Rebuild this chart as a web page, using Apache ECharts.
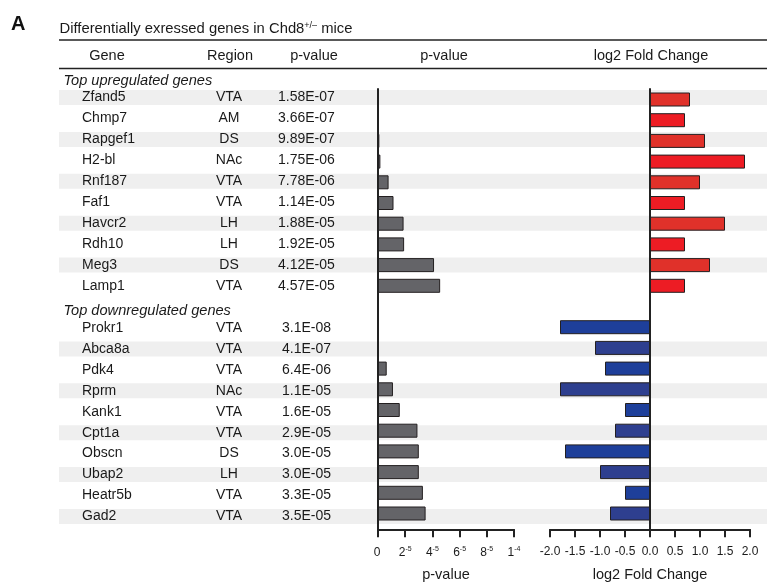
<!DOCTYPE html>
<html>
<head>
<meta charset="utf-8">
<script src="https://cdn.jsdelivr.net/npm/echarts@6/dist/echarts.min.js"></script>
<style>html,body{margin:0;padding:0;background:#fff;}#chart{width:767px;height:582px;}</style>
</head>
<body>
<div id="chart"></div>
<script>
// ---- data ----
const upGenes = ['Zfand5','Chmp7','Rapgef1','H2-bl','Rnf187','Faf1','Havcr2','Rdh10','Meg3','Lamp1'];
const upRegions = ['VTA','AM','DS','NAc','VTA','VTA','LH','LH','DS','VTA'];
const upPValues = ['1.58E-07','3.66E-07','9.89E-07','1.75E-06','7.78E-06','1.14E-05','1.88E-05','1.92E-05','4.12E-05','4.57E-05'];
const upLog2FC = [0.8, 0.7, 1.1, 1.9, 1.0, 0.7, 1.5, 0.7, 1.2, 0.7];

const downGenes = ['Prokr1','Abca8a','Pdk4','Rprm','Kank1','Cpt1a','Obscn','Ubap2','Heatr5b','Gad2'];
const downRegions = ['VTA','VTA','VTA','NAc','VTA','VTA','DS','LH','VTA','VTA'];
const downPValues = ['3.1E-08','4.1E-07','6.4E-06','1.1E-05','1.6E-05','2.9E-05','3.0E-05','3.0E-05','3.3E-05','3.5E-05'];
const downLog2FC = [-1.8, -1.1, -0.9, -1.8, -0.5, -0.7, -1.7, -1.0, -0.5, -0.8];

const sectionTitles = ['Top upregulated genes', 'Top downregulated genes'];
const pTickBase = ['0','2','4','6','8','1'];
const pTickExp  = ['', '-5','-5','-5','-5','-4'];
const headerTitle = 'Differentially exressed genes in Chd8';
const headerSup = '+/\u2013';
const columnHeaders = ['Gene','Region','p-value','p-value','log2 Fold Change'];

// ---- build ----
const FONT = '"Liberation Sans", Arial, Helvetica, sans-serif';
const TXT = '#1a1a1a';
const N = upGenes.length;

const tableRows = [];
tableRows.push({type:'section', text: sectionTitles[0]});
for (let i=0;i<N;i++) tableRows.push({type:'gene', dir:'up', gene: upGenes[i], region: upRegions[i], p: upPValues[i], shade: i%2===0});
tableRows.push({type:'section', text: sectionTitles[1]});
for (let i=0;i<N;i++) tableRows.push({type:'gene', dir:'down', gene: downGenes[i], region: downRegions[i], p: downPValues[i], shade: i%2===1});
const tableCats = tableRows.map((r,i)=>String(i));

const barCats = [];
const pBarData = [];
const fcBarData = [];
const grayBar = '#646468';
for (let i=0;i<N;i++) {
  barCats.push('u'+i);
  pBarData.push({value: parseFloat(upPValues[i]), itemStyle:{color: grayBar}});
  fcBarData.push({value: upLog2FC[i], itemStyle:{color: i%2===0 ? '#e0312a' : '#ed1c24'}});
}
barCats.push('gap'); pBarData.push('-'); fcBarData.push('-');
for (let i=0;i<N;i++) {
  barCats.push('d'+i);
  pBarData.push({value: parseFloat(downPValues[i]), itemStyle:{color: grayBar}});
  fcBarData.push({value: downLog2FC[i], itemStyle:{color: i%2===1 ? '#2e3f8f' : '#1e3f9a'}});
}

const stripeData = tableRows.map(r => (r.type==='gene' && r.shade) ? 1 : '-');

function textAxis(formatter, margin, labelExtra) {
  return {
    type:'category', gridIndex:0, data: tableCats, inverse:true, position:'left', offset:0, z:10,
    axisLine:{show:false}, axisTick:{show:false}, splitLine:{show:false},
    axisLabel:Object.assign({show:true, inside:true, interval:0, margin, formatter,
      color:TXT, fontSize:14, fontFamily:FONT, hideOverlap:false}, labelExtra||{})
  };
}

const TBL_TOP = 66.05, ROW_H = 20.95;
const BAR_TOP = 89.15, BAR_ROW = 20.7;
const gridBase = {outerBoundsMode:'none', containLabel:false};

const option = {
  animation:false,
  backgroundColor:'#fff',
  grid:[
    Object.assign({left:59, top:TBL_TOP, width:708, height:ROW_H*tableRows.length}, gridBase),
    Object.assign({left:378, top:BAR_TOP, width:136, height:BAR_ROW*barCats.length}, gridBase),
    Object.assign({left:550, top:BAR_TOP, width:200, height:BAR_ROW*barCats.length}, gridBase),
    Object.assign({left:378, top:89, width:136, height:440.3}, gridBase),
    Object.assign({left:550, top:89, width:200, height:440.3}, gridBase)
  ],
  xAxis:[
    {type:'value', gridIndex:0, min:0, max:1, show:false},
    {type:'value', gridIndex:1, min:0, max:1e-4, show:false},
    {type:'value', gridIndex:2, min:-2, max:2, show:false},
    {type:'value', gridIndex:3, min:0, max:1e-4, interval:2e-5, position:'bottom', z:10,
      axisLine:{show:true, onZero:false, lineStyle:{color:'#222', width:2}},
      axisTick:{show:true, length:8, lineStyle:{color:'#222', width:2}},
      splitLine:{show:false},
      axisLabel:{margin:16, color:TXT, fontFamily:FONT,
        formatter:(v, idx)=> '{b|'+pTickBase[idx]+'}{s|'+(pTickExp[idx] || ' ')+'}',
        rich:{ b:{fontSize:12, lineHeight:14, fontFamily:FONT, color:TXT},
               s:{fontSize:7, lineHeight:14, fontFamily:FONT, color:TXT, padding:[0,0,6,0]} } },
      name:'p-value', nameLocation:'middle', nameGap:38,
      nameTextStyle:{fontSize:14.5, fontFamily:FONT, color:TXT}
    },
    {type:'value', gridIndex:4, min:-2, max:2, interval:0.5, position:'bottom', z:10,
      axisLine:{show:true, onZero:false, lineStyle:{color:'#222', width:2}},
      axisTick:{show:true, length:8, lineStyle:{color:'#222', width:2}},
      splitLine:{show:false},
      axisLabel:{margin:16, fontSize:12, color:TXT, fontFamily:FONT,
        formatter:(v)=> v.toFixed(1)},
      name:'log2 Fold Change', nameLocation:'middle', nameGap:38,
      nameTextStyle:{fontSize:14.5, fontFamily:FONT, color:TXT}
    }
  ],
  yAxis:[
    textAxis((v)=>{const r=tableRows[+v]; return r.type==='gene'? r.gene : '';}, 23),
    textAxis((v)=>{const r=tableRows[+v]; return r.type==='gene'? r.region : '';}, 170, {align:'center'}),
    textAxis((v)=>{const r=tableRows[+v]; return r.type!=='gene' ? '' : (r.dir==='down' ? '{d|'+r.p+'}' : r.p);}, 219,
      {rich:{d:{fontSize:14, fontFamily:FONT, color:TXT, padding:[0,0,0,4]}}}),
    textAxis((v)=>{const r=tableRows[+v]; return r.type==='section'? '{h|'+r.text+'}' : '';}, 4.5,
      {rich:{h:{fontStyle:'italic', fontSize:14.6, fontFamily:FONT, color:TXT, padding:[8,0,0,0]}}}),
    {type:'category', gridIndex:1, data:barCats, inverse:true, show:false},
    {type:'category', gridIndex:2, data:barCats, inverse:true, show:false},
    {type:'value', gridIndex:3, min:0, max:1, position:'left', z:10,
      axisLine:{show:true, lineStyle:{color:'#222', width:2}}, axisTick:{show:false}, axisLabel:{show:false}, splitLine:{show:false}},
    {type:'value', gridIndex:4, min:0, max:1, position:'left', z:10,
      axisLine:{show:true, onZero:true, lineStyle:{color:'#222', width:2}}, axisTick:{show:false}, axisLabel:{show:false}, splitLine:{show:false}}
  ],
  series:[
    {type:'bar', xAxisIndex:0, yAxisIndex:0, data:stripeData, barWidth:15, silent:true, z:0,
      itemStyle:{color:'#efefef'}},
    {type:'bar', xAxisIndex:1, yAxisIndex:4, data:pBarData, barWidth:14, z:3,
      itemStyle:{borderColor:'#231f20', borderWidth:1}},
    {type:'bar', xAxisIndex:2, yAxisIndex:5, data:fcBarData, barWidth:14, z:3,
      itemStyle:{borderColor:'#231f20', borderWidth:1}}
  ],
  graphic:[
    {type:'text', x:11, y:24, style:{text:'A', fontSize:20, fontWeight:'bold', fontFamily:FONT, fill:'#111', verticalAlign:'middle'}},
    {type:'text', x:59.5, y:29, style:{text:headerTitle+'{sup|'+headerSup+'} mice', fontSize:14.8, fontFamily:FONT, fill:TXT, verticalAlign:'middle',
      rich:{sup:{fontSize:9, fontFamily:FONT, fill:TXT, padding:[0,0,7,0]}}}},
    {type:'line', shape:{x1:59, y1:40, x2:767, y2:40}, style:{stroke:'#222', lineWidth:1.5}},
    {type:'line', shape:{x1:59, y1:68.5, x2:767, y2:68.5}, style:{stroke:'#222', lineWidth:1.5}},
    {type:'text', x:107, y:55.5, style:{text:columnHeaders[0], fontSize:14.5, fontFamily:FONT, fill:TXT, align:'center', verticalAlign:'middle'}},
    {type:'text', x:230, y:55.5, style:{text:columnHeaders[1], fontSize:14.5, fontFamily:FONT, fill:TXT, align:'center', verticalAlign:'middle'}},
    {type:'text', x:314, y:55.5, style:{text:columnHeaders[2], fontSize:14.5, fontFamily:FONT, fill:TXT, align:'center', verticalAlign:'middle'}},
    {type:'text', x:444, y:55.5, style:{text:columnHeaders[3], fontSize:14.5, fontFamily:FONT, fill:TXT, align:'center', verticalAlign:'middle'}},
    {type:'text', x:651, y:55.5, style:{text:columnHeaders[4], fontSize:14.5, fontFamily:FONT, fill:TXT, align:'center', verticalAlign:'middle'}}
  ]
};

const chart = echarts.init(document.getElementById('chart'), null, {renderer:'canvas'});
chart.setOption(option);
</script>
</body>
</html>
